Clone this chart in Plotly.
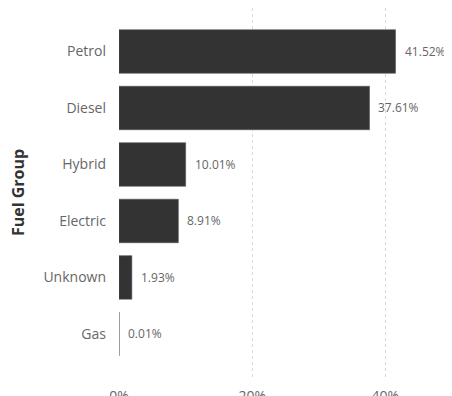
import plotly.graph_objects as go

categories = ["Petrol", "Diesel", "Hybrid", "Electric", "Unknown", "Gas"]
shares = [41.52, 37.61, 10.01, 8.91, 1.93, 0.01]
tick_vals = [0, 20, 40]
tick_text = ["0%", "20%", "40%"]

font_fam = "Open Sans, Noto Sans, sans-serif"

fig = go.Figure()
fig.add_trace(go.Bar(
    y=categories, x=shares, orientation="h",
    marker=dict(color="#333333", line=dict(color="#555555", width=0.6)),
    width=0.77, hoverinfo="skip",
))

for c, v in zip(categories, shares):
    fig.add_annotation(x=v, y=c, xref="x", yref="y", text=f"{v:.2f}%",
                       showarrow=False, xanchor="left", xshift=7,
                       font=dict(family=font_fam, size=12, color="#666666"))

fig.add_annotation(x=-0.303, y=0.5, xref="paper", yref="paper", text="<b>Fuel Group</b>",
                   textangle=-90, showarrow=False, xanchor="center", yanchor="middle",
                   font=dict(family=font_fam, size=16, color="#333333"))

fig.update_layout(
    width=444, height=388,
    margin=dict(l=111, r=0, t=0, b=18),
    paper_bgcolor="white", plot_bgcolor="white",
    showlegend=False,
    xaxis=dict(range=[0, 50], tickvals=tick_vals, ticktext=tick_text,
               showgrid=True, gridcolor="#d9d9d9", griddash="dot", gridwidth=1,
               zeroline=False, showline=False, automargin=False,
               ticklabelstandoff=8,
               tickfont=dict(family=font_fam, size=14, color="#666666")),
    yaxis=dict(categoryorder="array", categoryarray=categories[::-1],
               range=[-0.78, 5.77], showgrid=False, zeroline=False,
               automargin=False, ticklabelstandoff=12,
               tickfont=dict(family=font_fam, size=14, color="#666666")),
)

fig.write_html("out.html")
